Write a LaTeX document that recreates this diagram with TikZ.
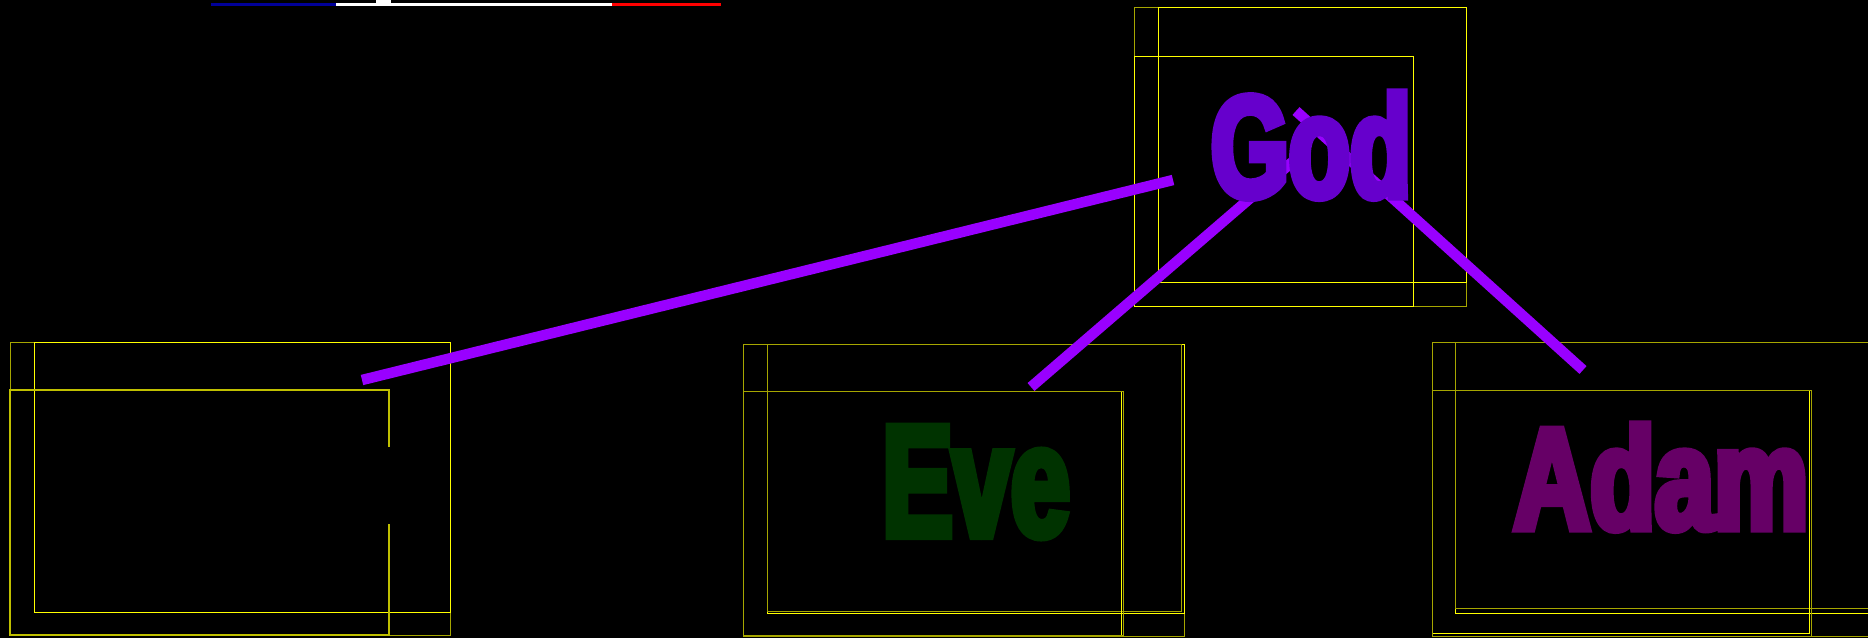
\documentclass[tikz,border=0pt]{standalone}
\usepackage{fontspec}
\usepackage{xcolor}
\usepackage{tikz}
\usetikzlibrary{positioning}
\newfontfamily\namefont{Liberation Sans}[FakeStretch=0.69,FakeBold=5]
\definecolor{godviolet}{RGB}{102,0,204}
\definecolor{edgeviolet}{RGB}{153,0,255}
\definecolor{evegreen}{RGB}{0,51,0}
\definecolor{adamplum}{RGB}{102,0,102}
\definecolor{frameyellow}{RGB}{255,255,0}
\definecolor{flagblue}{RGB}{0,0,153}
\definecolor{flagred}{RGB}{255,0,0}

\begin{document}
\begin{tikzpicture}[
    x=1pt, y=-1pt,
    frame/.style={rectangle, draw=frameyellow, line width=1.3pt, inner sep=0pt, anchor=north west},
    dimframe/.style={frame, draw=frameyellow!65!black},
    namelabel/.style={anchor=base, inner sep=0pt, font=\namefont\bfseries},
    edge/.style={draw=edgeviolet, line width=10.5pt}
]
\fill[black] (0,0) rectangle (1868,638);
\useasboundingbox (0,0) rectangle (1868,638);

% flag strip
\fill[flagblue] (211,2.5) rectangle (336,6.3);
\fill[white] (336,2.5) rectangle (612,6.3);
\fill[white] (376,0) rectangle (391,2.5);
\fill[flagred] (612,2.5) rectangle (721,6.3);

% God frames
\node[dimframe, minimum width=332, minimum height=299] (godouter) at (1134,7) {};
\node[frame, minimum width=308, minimum height=275] (godA) at (1158,7) {};
\node[frame, minimum width=279, minimum height=250] (godB) at (1134,56) {};

% empty frames
\node[dimframe, minimum width=440, minimum height=293] (blankouter) at (10,342) {};
\node[frame, minimum width=416, minimum height=270] (blankA) at (34,342) {};
\draw[frameyellow!75!black, line width=1.3pt] (389,447) -- (389,390) -- (10,390) -- (10,635) -- (389,635) -- (389,524);

% Eve frames
\node[dimframe, minimum width=441, minimum height=292] (eveouter) at (743,344) {};
\node[frame, minimum width=417, minimum height=269] (eveA) at (767,344) {};
\node[dimframe, minimum width=414, minimum height=267] (eveA2) at (767,344) {};
\node[frame, minimum width=378, minimum height=244] (eveB) at (743,391) {};
\node[dimframe, minimum width=380, minimum height=244] (eveB2) at (743,391) {};

% Adam frames
\node[dimframe, minimum width=440, minimum height=294] (adamouter) at (1432,342) {};
\node[frame, minimum width=417, minimum height=271] (adamA) at (1455,342) {};
\node[dimframe, minimum width=417, minimum height=266] (adamA2) at (1455,342) {};
\node[frame, minimum width=377, minimum height=243] (adamB) at (1432,390) {};
\node[dimframe, minimum width=379, minimum height=246] (adamB2) at (1432,390) {};

% edge ends
\coordinate (godtop) at (1296,111);
\coordinate (godleft) at (1173,180);
\coordinate (godmid) at (1305,151);
\coordinate (blanktop) at (362,380);
\coordinate (evetop) at (1031,387);
\coordinate (adamtop) at (1583,370);

\draw[edge] (blanktop) -- (godleft);
\draw[edge] (evetop) -- (godmid);
\draw[edge] (godtop) -- (adamtop);

% names
\node[namelabel, text=godviolet] (god) at (1311,197) {\fontsize{145}{150}\selectfont God};
\node[namelabel, text=evegreen] (eve) at (976,536) {\scalebox{0.96}[1]{\fontsize{159}{165}\selectfont Eve}};
\node[namelabel, text=adamplum] (adam) at (1661,529) {\scalebox{1.06}[1]{\fontsize{145}{150}\selectfont Adam}};
\end{tikzpicture}
\end{document}
